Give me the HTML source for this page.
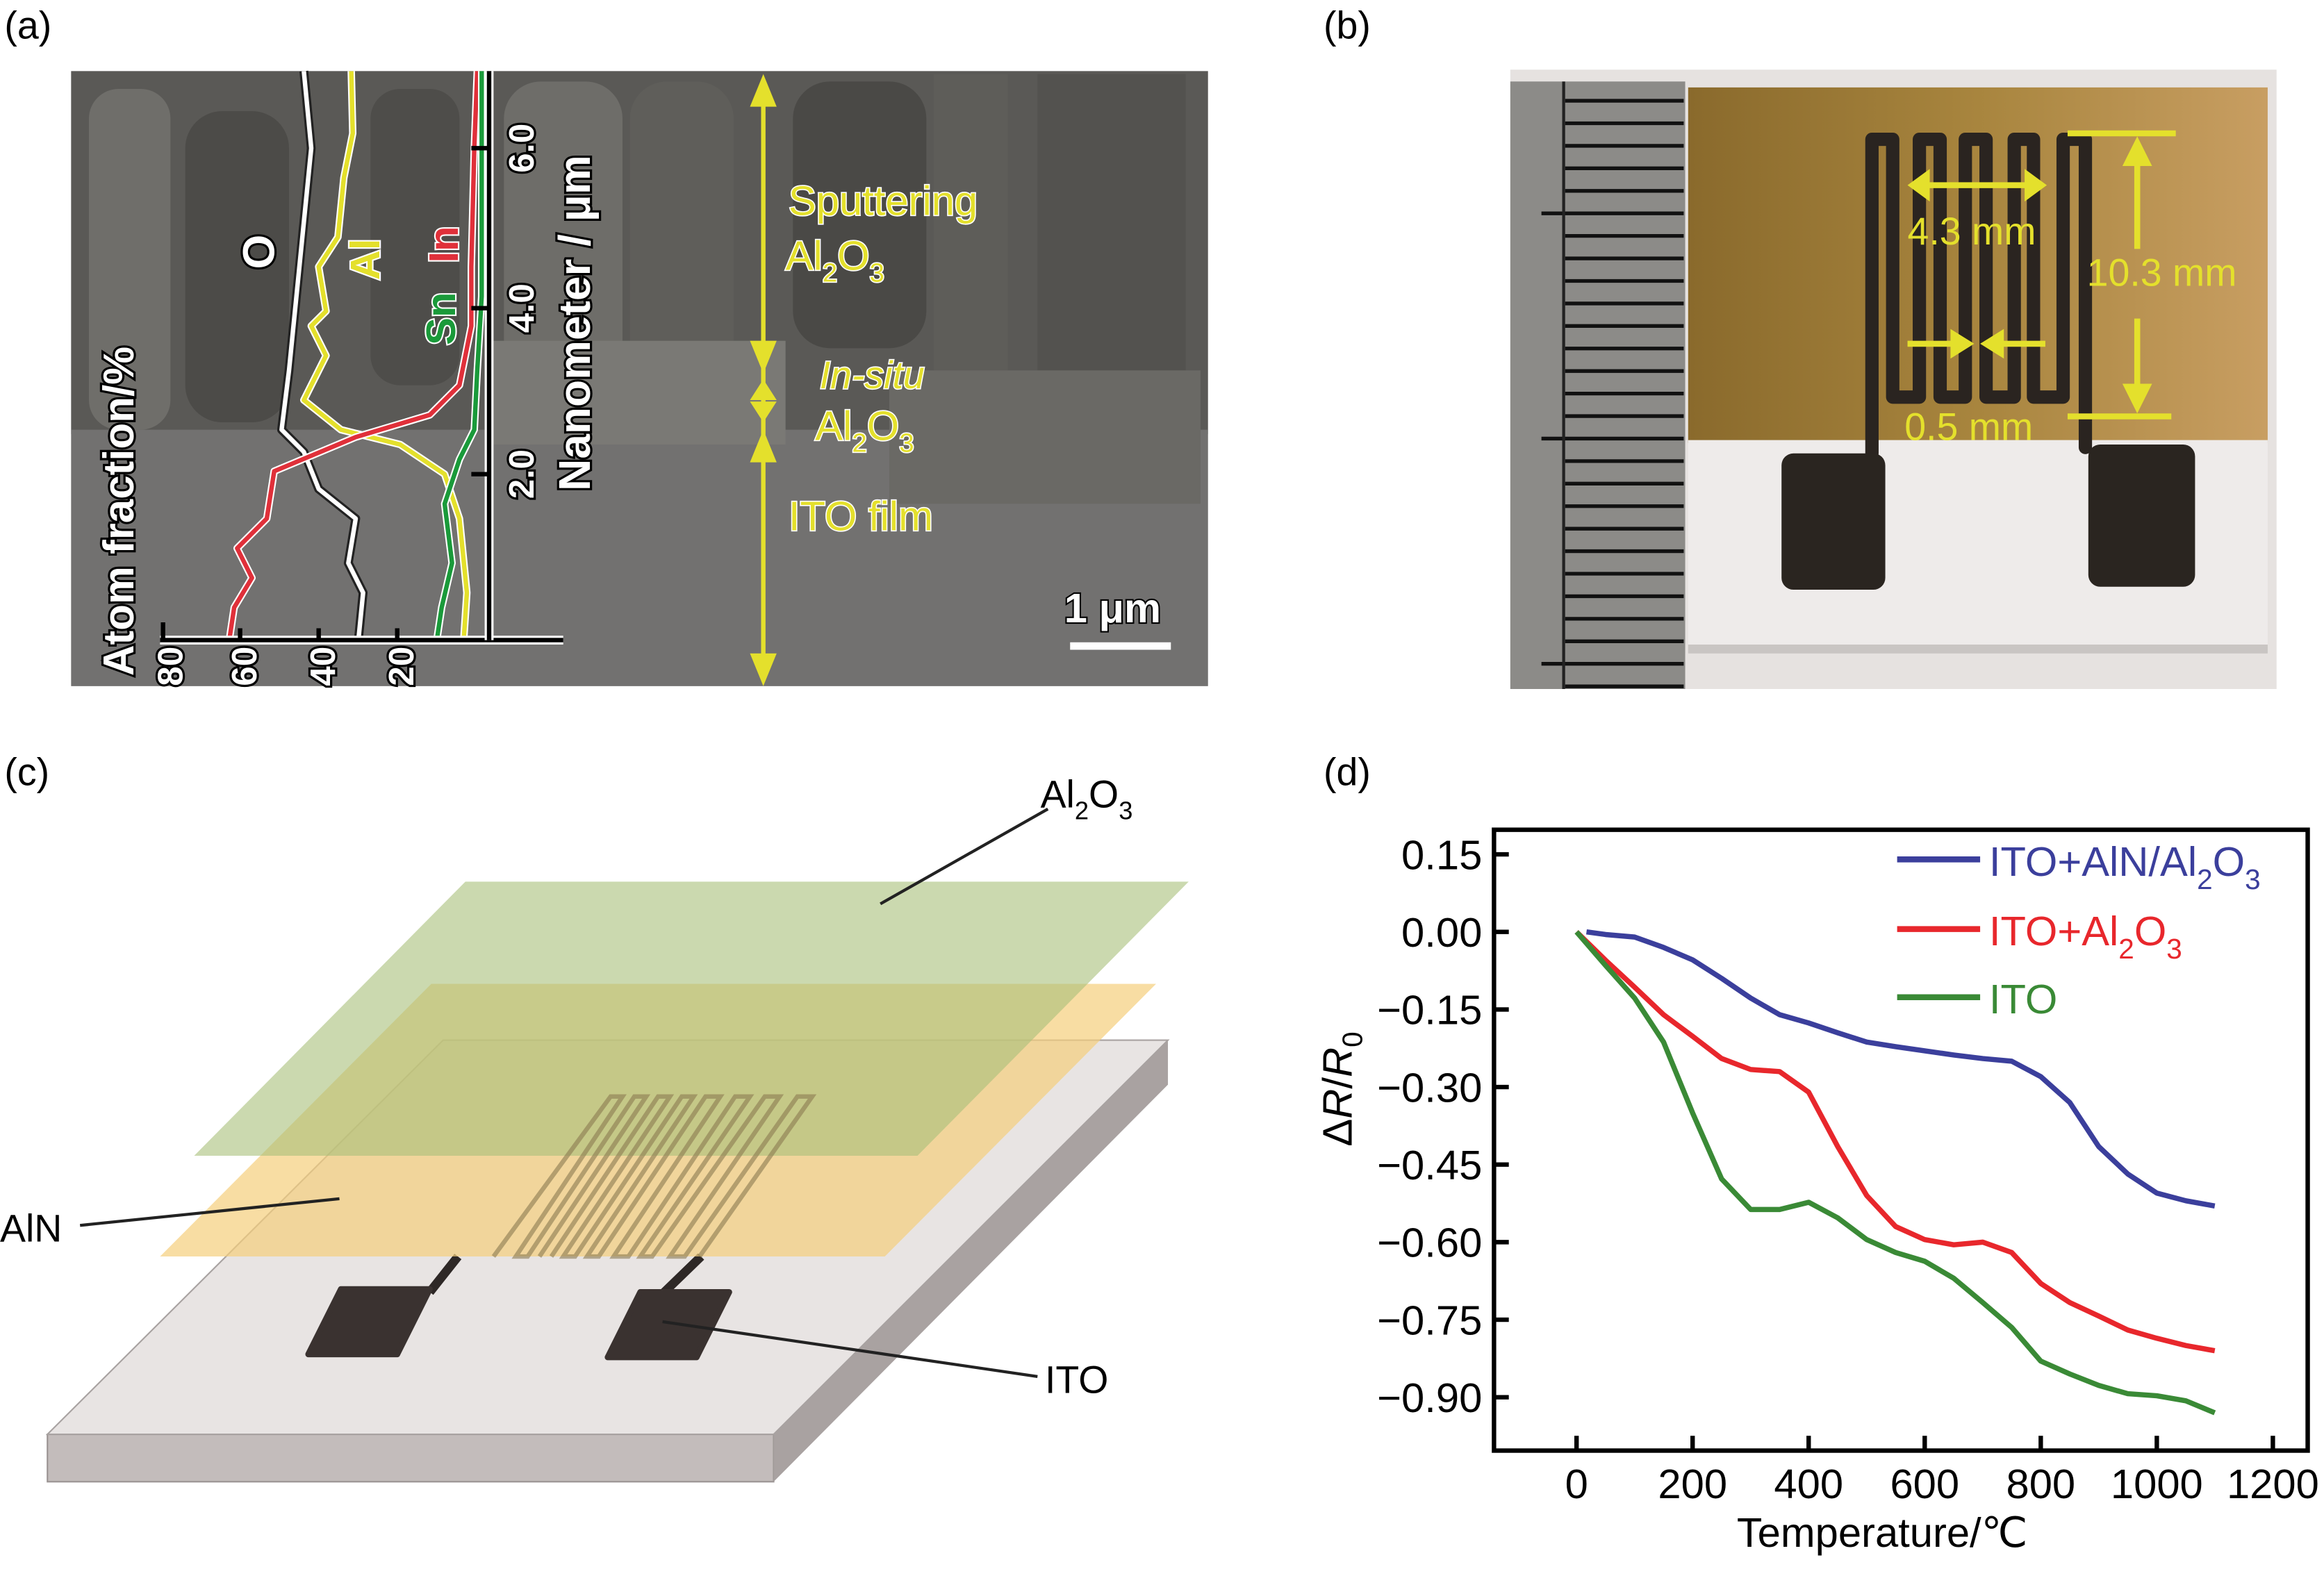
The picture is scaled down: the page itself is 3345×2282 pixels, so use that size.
<!DOCTYPE html>
<html><head><meta charset="utf-8"><style>
html,body{margin:0;padding:0;background:#fff}
svg{display:block}
text{font-family:"Liberation Sans",sans-serif}
</style></head><body>
<svg id="fig" width="3345" height="2282" viewBox="0 0 1568 1069.7" xmlns="http://www.w3.org/2000/svg">
<rect width="1568" height="1070" fill="#fff"/>
<text x="3" y="26" font-size="26">(a)</text>
<text x="893" y="26" font-size="26">(b)</text>
<text x="3" y="530" font-size="26">(c)</text>
<text x="893" y="530" font-size="26">(d)</text>

<!-- ===== Panel A: SEM ===== -->
<g>
<rect x="48" y="48" width="767" height="415" fill="#676662"/>
<rect x="48" y="48" width="767" height="245" fill="#5a5956"/>
<rect x="60" y="60" width="55" height="230" rx="20" fill="#6f6e6a"/>
<rect x="125" y="75" width="70" height="210" rx="25" fill="#4c4b48"/>
<rect x="250" y="60" width="60" height="200" rx="20" fill="#4e4d4a"/>
<rect x="340" y="55" width="80" height="200" rx="25" fill="#6e6d69"/>
<rect x="425" y="55" width="70" height="230" rx="25" fill="#5f5e5a"/>
<rect x="535" y="55" width="90" height="180" rx="25" fill="#4a4946"/>
<rect x="630" y="50" width="50" height="230" fill="#5e5d59"/>
<rect x="700" y="50" width="100" height="200" fill="#53524f"/>
<rect x="48" y="290" width="767" height="173" fill="#727170"/>
<rect x="330" y="230" width="200" height="70" fill="#7a7975"/>
<rect x="600" y="250" width="210" height="90" fill="#6a6965"/>
</g>
<g fill="none" stroke-linejoin="round">
<polyline points="205,48 210,100 205,150 200,200 195,250 190,290 205,305 215,330 240,350 235,380 245,400 242,430" stroke="#222" stroke-width="6"/>
<polyline points="205,48 210,100 205,150 200,200 195,250 190,290 205,305 215,330 240,350 235,380 245,400 242,430" stroke="#fff" stroke-width="3"/>
<polyline points="237,48 238,90 232,120 228,160 215,180 220,210 210,220 220,240 205,270 230,290 270,300 300,320 310,350 315,400 313,430" stroke="#fff" stroke-width="5"/>
<polyline points="237,48 238,90 232,120 228,160 215,180 220,210 210,220 220,240 205,270 230,290 270,300 300,320 310,350 315,400 313,430" stroke="#e4e02c" stroke-width="3"/>
<polyline points="322,48 320,100 318,180 318,220 310,260 290,280 240,295 185,318 180,350 160,370 170,390 158,410 155,430" stroke="#fff" stroke-width="5"/>
<polyline points="322,48 320,100 318,180 318,220 310,260 290,280 240,295 185,318 180,350 160,370 170,390 158,410 155,430" stroke="#e0303a" stroke-width="3"/>
<polyline points="325,48 325,200 322,250 320,290 310,310 300,340 305,380 298,410 295,430" stroke="#fff" stroke-width="5"/>
<polyline points="325,48 325,200 322,250 320,290 310,310 300,340 305,380 298,410 295,430" stroke="#1a9a3a" stroke-width="3"/>
</g>
<g stroke="#000" stroke-width="3">
<line x1="108" y1="432" x2="380" y2="432" stroke="#fff" stroke-width="6"/>
<line x1="108" y1="432" x2="380" y2="432"/>
<line x1="330" y1="48" x2="330" y2="432" stroke="#fff" stroke-width="6"/>
<line x1="330" y1="48" x2="330" y2="432"/>
<line x1="110" y1="420" x2="110" y2="432"/><line x1="162" y1="424" x2="162" y2="432"/><line x1="215" y1="424" x2="215" y2="432"/><line x1="268" y1="424" x2="268" y2="432"/>
<line x1="318" y1="100" x2="330" y2="100"/><line x1="318" y1="208" x2="330" y2="208"/><line x1="318" y1="320" x2="330" y2="320"/>
</g>
<g font-size="26" fill="#fff" stroke="#000" stroke-width="3" paint-order="stroke" font-weight="bold">
<text transform="translate(123,463) rotate(-90)" font-size="24">80</text>
<text transform="translate(173,463) rotate(-90)" font-size="24">60</text>
<text transform="translate(226,463) rotate(-90)" font-size="24">40</text>
<text transform="translate(279,463) rotate(-90)" font-size="24">20</text>
<text transform="translate(360,320) rotate(-90)" font-size="24" text-anchor="middle">2.0</text>
<text transform="translate(360,208) rotate(-90)" font-size="24" text-anchor="middle">4.0</text>
<text transform="translate(360,100) rotate(-90)" font-size="24" text-anchor="middle">6.0</text>
<text transform="translate(90,345) rotate(-90)" text-anchor="middle" font-size="29">Atom fraction/%</text>
<text transform="translate(398,218) rotate(-90)" text-anchor="middle" font-size="30">Nanometer / μm</text>
<text transform="translate(185,170) rotate(-90)" text-anchor="middle" font-size="30">O</text>
<text transform="translate(256,175) rotate(-90)" text-anchor="middle" font-size="28" fill="#e4e02c" stroke="#fff" stroke-width="2">Al</text>
<text transform="translate(309,165) rotate(-90)" text-anchor="middle" font-size="28" fill="#e0303a" stroke="#fff" stroke-width="2">In</text>
<text transform="translate(307,215) rotate(-90)" text-anchor="middle" font-size="28" fill="#1a9a3a" stroke="#fff" stroke-width="2">Sn</text>
<text x="718" y="420" font-size="28" stroke-width="2">1 μm</text>
</g>
<line x1="722" y1="436" x2="790" y2="436" stroke="#fff" stroke-width="5"/>
<g fill="#e4e02c" stroke="#e4e02c">
<line x1="515" y1="58" x2="515" y2="455" stroke-width="3"/>
<polygon points="515,50 506,72 524,72" stroke="none"/>
<polygon points="515,252 506,230 524,230" stroke="none"/>
<polygon points="515,256 506,270 524,270" stroke="none"/>
<polygon points="515,285 506,271 524,271" stroke="none"/>
<polygon points="515,290 506,312 524,312" stroke="none"/>
<polygon points="515,463 506,441 524,441" stroke="none"/>
</g>
<g fill="#e4e02c" stroke="#fff" stroke-width="1.5" paint-order="stroke" font-size="28">
<text x="532" y="145">Sputtering</text>
<text x="530" y="182">Al<tspan font-size="18" dy="8">2</tspan><tspan dy="-8">O</tspan><tspan font-size="18" dy="8">3</tspan></text>
<text x="553" y="262" font-style="italic" font-size="26">In-situ</text>
<text x="550" y="297">Al<tspan font-size="18" dy="8">2</tspan><tspan dy="-8">O</tspan><tspan font-size="18" dy="8">3</tspan></text>
<text x="532" y="358">ITO film</text>
</g>

<!-- ===== Panel B: photo ===== -->
<g>
<defs>
<linearGradient id="gold" x1="0" x2="1" y1="0" y2="0"><stop offset="0" stop-color="#8a6a2c"/><stop offset="0.5" stop-color="#a8853e"/><stop offset="1" stop-color="#c89e62"/></linearGradient>
</defs>
<rect x="1019" y="47" width="517" height="418" fill="#e6e2e0"/>
<rect x="1019" y="55" width="118" height="410" fill="#8c8b88"/>
<g id="ruler-ticks" stroke="#111" stroke-width="2.5"></g>
<line x1="1055" y1="55" x2="1055" y2="465" stroke="#222" stroke-width="2"/>
<rect x="1139" y="59" width="391" height="240" fill="url(#gold)"/>
<rect x="1139" y="297" width="391" height="138" fill="#eeebea"/>
<rect x="1139" y="435" width="391" height="6" fill="#c9c5c3"/>
<path d="M1263,306 L1263,94 L1277,94 L1277,268 L1295,268 L1295,94 L1309,94 L1309,268 L1326,268 L1326,94 L1340,94 L1340,268 L1359,268 L1359,94 L1372,94 L1372,268 L1392,268 L1392,94 L1407,94 L1407,302" fill="none" stroke="#2a2420" stroke-width="9" stroke-linejoin="round" stroke-linecap="round"/>
<rect x="1202" y="306" width="70" height="92" rx="8" fill="#2a2520"/>
<rect x="1409" y="300" width="72" height="96" rx="8" fill="#2a2520"/>
</g>
<g stroke="#e4e02c" stroke-width="4" fill="#e4e02c">
<line x1="1295" y1="125" x2="1372" y2="125"/>
<polygon points="1287,125 1302,114 1302,136" stroke="none"/>
<polygon points="1381,125 1366,114 1366,136" stroke="none"/>
<line x1="1395" y1="90" x2="1468" y2="90"/>
<line x1="1395" y1="281" x2="1465" y2="281"/>
<line x1="1442" y1="100" x2="1442" y2="168"/>
<line x1="1442" y1="215" x2="1442" y2="272"/>
<polygon points="1442,92 1432,112 1452,112" stroke="none"/>
<polygon points="1442,279 1432,259 1452,259" stroke="none"/>
<line x1="1287" y1="232" x2="1318" y2="232"/>
<polygon points="1332,232 1316,222 1316,242" stroke="none"/>
<line x1="1350" y1="232" x2="1380" y2="232"/>
<polygon points="1336,232 1352,222 1352,242" stroke="none"/>
</g>
<g fill="#e4e02c" font-size="26">
<text x="1287" y="165">4.3 mm</text>
<text x="1408" y="193">10.3 mm</text>
<text x="1285" y="297">0.5 mm</text>
</g>

<!-- ===== Panel C: schematic ===== -->
<g>
<polygon points="32,968 522,968 522,1000 32,1000" fill="#c3bcbb" stroke="#9a9392"/>
<polygon points="522,968 788,702 788,732 522,1000" fill="#a9a2a1"/>
<polygon points="299,702 788,702 522,968 32,968" fill="#e8e4e3" stroke="#a8a2a1"/>
<path d="M309,848 L290,872" stroke="#2e2826" stroke-width="6"/>
<path d="M473,848 L441,879" stroke="#2e2826" stroke-width="6"/>
<polygon points="230,870 290,870 268,914 208,914" fill="#3a3230" stroke="#3a3230" stroke-width="4" stroke-linejoin="round"/>
<polygon points="432,872 492,872 470,916 410,916" fill="#3a3230" stroke="#3a3230" stroke-width="4" stroke-linejoin="round"/>
<polygon points="291,664 780,664 597,848 108,848" fill="#f5cf7c" fill-opacity="0.7"/>
<polygon points="314,595 802,595 619,780 131,780" fill="#a8c07a" fill-opacity="0.6"/>
<g stroke="#8a7a50" stroke-opacity="0.6" stroke-width="3" fill="none">
<path d="M333,848 L412,740 L420,740 L348,848 L356,848 L428,740 L436,740 L364,848 M372,848 L444,740 L452,740 L380,848 L388,848 L460,740 L468,740 L396,848 L404,848 L476,740 L486,740 L414,848 L424,848 L496,740 L506,740 L432,848 L440,848 L516,740 L526,740 L452,848 L462,848 L538,740 L548,740 L472,848"/>
</g>
</g>
<g font-size="26">
<text x="702" y="545">Al<tspan font-size="17" dy="8">2</tspan><tspan dy="-8">O</tspan><tspan font-size="17" dy="8">3</tspan></text>
<line x1="707" y1="546" x2="594" y2="610" stroke="#222" stroke-width="2"/>
<text x="0" y="838">AlN</text>
<line x1="54" y1="827" x2="229" y2="809" stroke="#222" stroke-width="2"/>
<text x="705" y="940">ITO</text>
<line x1="447" y1="892" x2="700" y2="929" stroke="#222" stroke-width="2"/>
</g>

<!-- ===== Panel D: chart ===== -->
<g id="chart"></g>
</svg>
<script>
const temps = [0,50,100,150,200,250,300,350,400,450,500,550,600,650,700,750,800,850,900,950,1000,1050,1100];
const blueVals = [0,-0.005,-0.01,-0.03,-0.054,-0.09,-0.128,-0.16,-0.176,-0.195,-0.213,-0.222,-0.23,-0.238,-0.245,-0.25,-0.28,-0.33,-0.415,-0.468,-0.505,-0.52,-0.53];
const redVals = [0,-0.055,-0.107,-0.16,-0.202,-0.245,-0.266,-0.27,-0.31,-0.415,-0.51,-0.57,-0.595,-0.605,-0.6,-0.62,-0.68,-0.717,-0.743,-0.77,-0.786,-0.80,-0.81];
const greenVals = [0,-0.065,-0.128,-0.213,-0.35,-0.478,-0.537,-0.537,-0.523,-0.553,-0.595,-0.62,-0.637,-0.67,-0.717,-0.765,-0.83,-0.855,-0.877,-0.893,-0.897,-0.907,-0.93];
const xTicks = [0,200,400,600,800,1000,1200];
const yTicks = [0.15,0,-0.15,-0.30,-0.45,-0.60,-0.75,-0.90];
const yTickLabels = ["0.15","0.00","\u22120.15","\u22120.30","\u22120.45","\u22120.60","\u22120.75","\u22120.90"];

const NS = "http://www.w3.org/2000/svg";
const box = {l:1008, r:1557, t:560, b:979};
function xs(v){ return 1063.7 + v*(1533.5-1063.7)/1200; }
function ys(v){ return 576.6 + (0.15 - v)*(943-576.6)/1.05; }
const chart = document.getElementById('chart');
function mk(tag, attrs, parent){
  const e = document.createElementNS(NS, tag);
  for (const k in attrs) e.setAttribute(k, attrs[k]);
  (parent||chart).appendChild(e);
  return e;
}
const rt = document.getElementById('ruler-ticks');
for (let i=0;i<27;i++){
  const y = 68 + i*15.2;
  const ln = mk('line',{x1: (i%10===5)?1040:1056, y1:y, x2:1136, y2:y}, rt);
  
  
}
const frame = mk('rect',{x:box.l,y:box.t,width:box.r-box.l,height:box.b-box.t,fill:'none',stroke:'#000','stroke-width':3});


yTicks.forEach((v,i)=>{
  const y = ys(v);
  const t = mk('line',{x1:box.l,y1:y,x2:box.l+10,y2:y,stroke:'#000','stroke-width':3});
  
  
  const lb = mk('text',{x:box.l-8,y:y+10,'text-anchor':'end','font-size':28});
  lb.textContent = yTickLabels[i];
  
  
});
xTicks.forEach(v=>{
  const x = xs(v);
  const t = mk('line',{x1:x,y1:box.b,x2:x,y2:box.b-10,stroke:'#000','stroke-width':3});
  
  
  const lb = mk('text',{x:x,y:box.b+32,'text-anchor':'middle','font-size':28});
  lb.textContent = v;
  
  
});
const xl = mk('text',{x:1270,y:1044,'text-anchor':'middle','font-size':28});
xl.textContent = 'Temperature/\u2103';


const yl = mk('text',{transform:'translate(912,735) rotate(-90)','text-anchor':'middle','font-size':28,'font-family':'Liberation Serif, serif'});
yl.innerHTML = '\u0394<tspan font-style="italic">R</tspan>/<tspan font-style="italic">R</tspan><tspan font-size="19" dy="7">0</tspan>';


const series = [
  {vals: blueVals, color:'#3b3f9c', name:'series-ito-aln-al2o3'},
  {vals: redVals, color:'#e8272c', name:'series-ito-al2o3'},
  {vals: greenVals, color:'#3a8a36', name:'series-ito'}
];
series.forEach(s=>{
  const pts = temps.map((t,i)=> xs(t+ (s.name==='series-ito-aln-al2o3'&&i===0?17:0)).toFixed(1)+','+ys(s.vals[i]).toFixed(1)).join(' ');
  const pl = mk('polyline',{points:pts,fill:'none',stroke:s.color,'stroke-width':3.5,'stroke-linejoin':'round'});
  
  
});
const legendY = [580, 627, 673];
const legendHTML = [
  'ITO+AlN/Al<tspan font-size="19" dy="9">2</tspan><tspan dy="-9">O</tspan><tspan font-size="19" dy="9">3</tspan>',
  'ITO+Al<tspan font-size="19" dy="9">2</tspan><tspan dy="-9">O</tspan><tspan font-size="19" dy="9">3</tspan>',
  'ITO'
];
series.forEach((s,i)=>{
  const ln = mk('line',{x1:1280,y1:legendY[i],x2:1336,y2:legendY[i],stroke:s.color,'stroke-width':4});
  
  
  const tx = mk('text',{x:1342,y:legendY[i]+11,'font-size':28,fill:s.color});
  tx.innerHTML = legendHTML[i];
  
  
});
</script>
</body></html>
